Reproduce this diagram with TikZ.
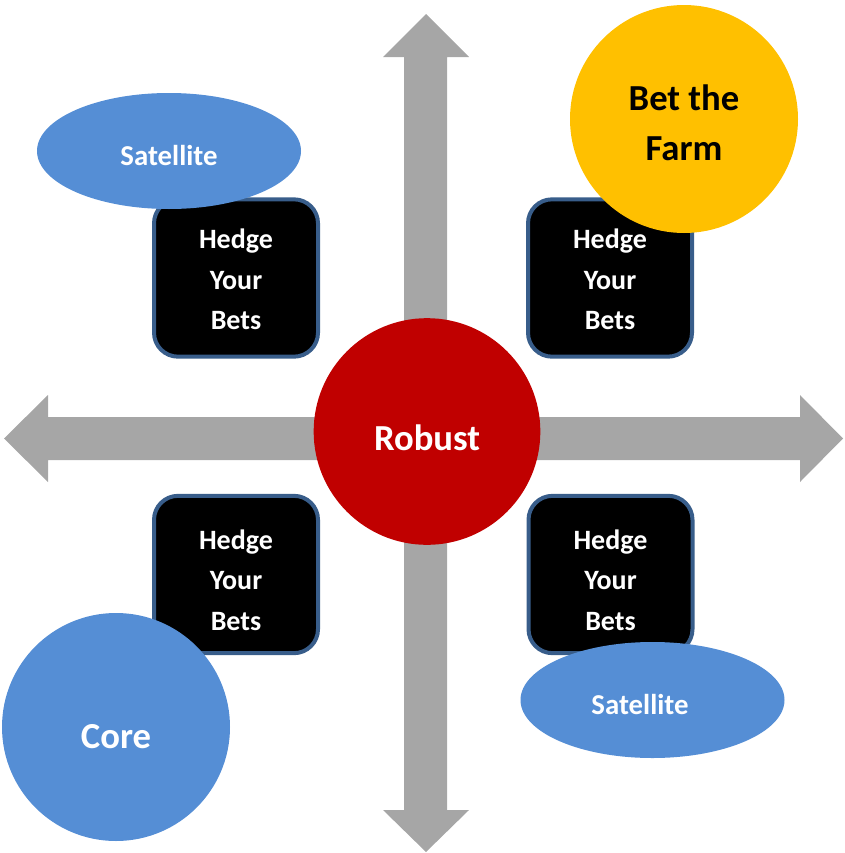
\documentclass[tikz,border=0pt]{standalone}
\usepackage{fontspec}
\setmainfont{Carlito}
\usetikzlibrary{shapes.geometric}
\definecolor{axisgray}{HTML}{A6A6A6}
\definecolor{robustred}{HTML}{C00000}
\definecolor{farmyellow}{HTML}{FFC000}
\definecolor{corblue}{HTML}{558ED5}
\definecolor{hedgeframe}{HTML}{385D8A}
\tikzset{
  hedgebox/.style={rectangle, rounded corners=18pt, fill=black, draw=hedgeframe, line width=3pt,
    minimum width=123pt, minimum height=118pt, align=center, text=white, text height=78pt,
    font=\fontsize{21}{30.5}\selectfont\bfseries},
  hedgelow/.style={hedgebox, text height=84pt},
  satellite/.style={ellipse, fill=corblue, minimum width=198pt, minimum height=87pt,
    text=white, font=\fontsize{21.6}{26}\selectfont\bfseries, text height=22pt, text depth=0pt},
  bigdot/.style={circle, minimum size=170pt, inner sep=0pt, font=\fontsize{27.5}{37.5}\selectfont\bfseries}
}
\begin{document}
\begin{tikzpicture}[x=0.75pt,y=-0.75pt]
    \useasboundingbox (0,0) rectangle (845,853);

    \fill[axisgray] (426,14) -- (469,57) -- (447,57) -- (447,810) -- (469,810) -- (426,852)
        -- (383,810) -- (404,810) -- (404,57) -- (383,57) -- cycle;
    \fill[axisgray] (4,438.5) -- (48,395) -- (48,417) -- (800,417) -- (800,395) -- (843,438.5)
        -- (800,482) -- (800,460) -- (48,460) -- (48,482) -- cycle;

    \node[bigdot, fill=robustred, text=white, text height=28pt, text depth=0pt] (robust) at (427,431.5) {Robust};

    \node[hedgebox] (hedgeTL) at (236,278) {Hedge\\Your\\Bets};
    \node[hedgebox] (hedgeTR) at (610,278) {Hedge\\Your\\Bets};
    \node[hedgelow] (hedgeBL) at (236,574.5) {Hedge\\Your\\Bets};
    \node[hedgelow] (hedgeBR) at (610.5,574.5) {Hedge\\Your\\Bets};

    \node[satellite] (satTL) at (169,151) {Satellite};
    \node[satellite] (satBR) at (652.5,700) {Satellite\hspace*{18.75pt}};

    \node[bigdot, fill=farmyellow, align=center, minimum size=171pt, text height=62pt] (farm) at (684,119) {Bet the\\Farm};
    \node[bigdot, fill=corblue, text=white, minimum size=171pt, text height=31.5pt, text depth=0pt] (core) at (116,727) {Core};
\end{tikzpicture}
\end{document}
